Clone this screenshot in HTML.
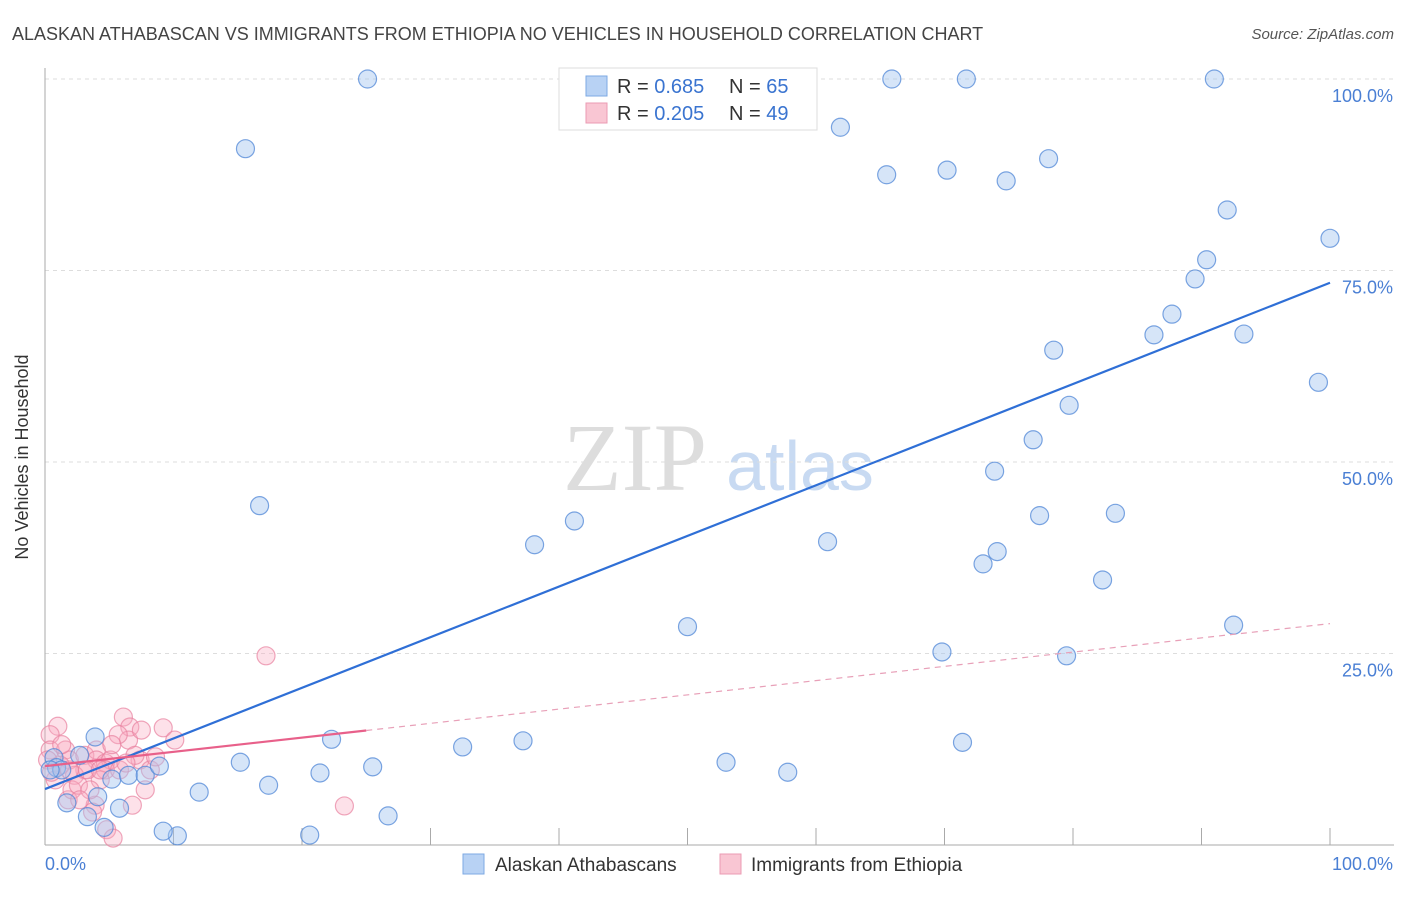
<!DOCTYPE html>
<html><head><meta charset="utf-8"><style>
body{margin:0;background:#fff;font-family:"Liberation Sans",sans-serif;}
</style></head><body>
<svg id="chart" width="1406" height="892" xmlns="http://www.w3.org/2000/svg">
<text x="12" y="40" font-size="18" fill="#444">ALASKAN ATHABASCAN VS IMMIGRANTS FROM ETHIOPIA NO VEHICLES IN HOUSEHOLD CORRELATION CHART</text>
<text x="1394" y="39" font-size="15" fill="#555" font-style="italic" text-anchor="end">Source: ZipAtlas.com</text>
<text x="28" y="457" font-size="18" fill="#333" text-anchor="middle" transform="rotate(-90 28 457)">No Vehicles in Household</text>
<g><text x="635" y="490" font-size="96" fill="#ddd" font-family="Liberation Serif,serif" text-anchor="middle">ZIP</text><text x="800" y="490" font-size="70" fill="#c8daf2" text-anchor="middle">atlas</text></g>
<g id="grid"></g><g id="axes"></g><g id="lines"></g><g id="pts"></g>
<g>
<rect x="559" y="68" width="258" height="62" fill="#fff" stroke="#ddd"/>
<rect x="586" y="76" width="21" height="20" fill="#b8d2f4" stroke="#7ea9e3"/>
<text x="617" y="93" font-size="20" fill="#333">R = <tspan fill="#3a74d0">0.685</tspan><tspan x="729">N = </tspan><tspan fill="#3a74d0">65</tspan></text>
<rect x="586" y="103" width="21" height="20" fill="#f9c6d3" stroke="#eb9bb3"/>
<text x="617" y="120" font-size="20" fill="#333">R = <tspan fill="#3a74d0">0.205</tspan><tspan x="729">N = </tspan><tspan fill="#3a74d0">49</tspan></text>
</g>
<g>
<rect x="463" y="854" width="21" height="20" fill="#b8d2f4" stroke="#7ea9e3"/>
<text x="495" y="871" font-size="19" fill="#333">Alaskan Athabascans</text>
<rect x="720" y="854" width="21" height="20" fill="#f9c6d3" stroke="#eb9bb3"/>
<text x="751" y="871" font-size="19" fill="#333">Immigrants from Ethiopia</text>
</g>
</svg>
<script>
const blueX=[25.1,15.6,61.9,65.9,71.7,91.0,65.5,70.2,74.8,78.1,92.0,100,90.4,89.5,87.7,86.3,93.3,78.5,99.1,79.7,76.9,73.9,16.7,41.2,38.1,77.4,83.3,60.9,74.1,73.0,82.3,50.0,92.5,69.8,79.5,22.3,32.5,37.2,71.4,15.2,25.5,53.0,57.8,21.4,17.4,12.0,26.7,20.6,10.3,9.2,0.7,3.9,2.7,5.2,6.5,7.8,8.9,1.7,3.3,5.8,4.6,4.1,0.9,1.3,0.4];
const blueY=[100,90.9,93.7,100,100,100,87.5,88.1,86.7,89.6,82.9,79.2,76.4,73.9,69.3,66.6,66.7,64.6,60.4,57.4,52.9,48.8,44.3,42.3,39.2,43.0,43.3,39.6,38.3,36.7,34.6,28.5,28.7,25.2,24.7,13.8,12.8,13.6,13.4,10.8,10.2,10.8,9.5,9.4,7.8,6.9,3.8,1.3,1.2,1.8,11.4,14.1,11.7,8.6,9.1,9.1,10.3,5.5,3.7,4.8,2.3,6.3,10.1,9.8,9.8];
const pinkX=[1.0,0.4,0.4,1.6,1.9,3.1,4.0,6.1,6.6,6.5,7.5,9.2,10.1,5.7,4.0,4.7,5.1,3.1,2.3,4.7,5.8,7.4,8.2,7.8,6.8,3.9,3.7,4.8,5.3,1.8,2.1,2.6,0.8,1.2,0.2,0.5,7.0,4.3,3.5,2.7,17.2,23.3,1.3,5.2,8.6,1.9,3.3,6.3,4.3];
const pinkY=[15.5,14.4,12.4,12.4,11.1,11.7,12.4,16.7,15.4,13.7,15.0,15.3,13.7,14.4,11.1,10.7,11.1,9.8,9.1,9.8,9.8,11.1,9.8,7.2,5.2,5.2,4.3,2.0,0.9,5.9,7.2,7.8,8.5,10.4,11.1,9.5,11.7,8.5,7.2,5.9,24.7,5.1,13.1,13.1,11.5,9.8,9.8,10.7,9.8];
const yTicks=[25,50,75,100];
const yTickLabels=["25.0%","50.0%","75.0%","100.0%"];
const xTicks=[0,10,20,30,40,50,60,70,80,90,100];
const blueFit=[7.3,0.661];
const pinkFit=[10.3,0.186];
const pinkSolidEnd=25;
const NS="http://www.w3.org/2000/svg";
const sx=v=>45+v*12.85, sy=v=>845-v*7.66;
function mk(tag,attrs,parent){const e=document.createElementNS(NS,tag);for(const k in attrs)e.setAttribute(k,attrs[k]);document.getElementById(parent).appendChild(e);return e;}
yTicks.forEach((t,i)=>{
 const l=mk('line',{x1:45,x2:1394,y1:sy(t),y2:sy(t),stroke:'#ddd','stroke-dasharray':'4,4'},'grid');
 
 
 const tx=mk('text',{x:1393,y:sy(t)+23,'font-size':18,fill:'#4a7fd4','text-anchor':'end'},'grid');
 tx.textContent=yTickLabels[i];
 
 
});
mk('line',{x1:45,x2:45,y1:68,y2:845,stroke:'#aaa'},'axes');
mk('line',{x1:45,x2:1394,y1:845,y2:845,stroke:'#aaa'},'axes');
xTicks.forEach(t=>{const l=mk('line',{x1:sx(t),x2:sx(t),y1:828,y2:845,stroke:'#aaa'},'axes');
 
 });
const x0=mk('text',{x:45,y:870,'font-size':18,fill:'#4a7fd4'},'axes');x0.textContent='0.0%';


const x1=mk('text',{x:1393,y:870,'font-size':18,fill:'#4a7fd4','text-anchor':'end'},'axes');x1.textContent='100.0%';


pinkX.forEach((x,i)=>{const c=mk('circle',{cx:sx(x),cy:sy(pinkY[i]),r:9,fill:'rgba(248,170,192,0.35)',stroke:'rgba(232,130,160,0.7)','stroke-width':1.2},'pts');
 
 });
blueX.forEach((x,i)=>{const c=mk('circle',{cx:sx(x),cy:sy(blueY[i]),r:9,fill:'rgba(165,198,240,0.45)',stroke:'rgba(80,135,215,0.75)','stroke-width':1.2},'pts');
 
 });
const bl=mk('line',{x1:sx(0),y1:sy(blueFit[0]),x2:sx(100),y2:sy(blueFit[0]+blueFit[1]*100),stroke:'#2f6fd6','stroke-width':2.2},'pts');


const ps=mk('line',{x1:sx(0),y1:sy(pinkFit[0]),x2:sx(pinkSolidEnd),y2:sy(pinkFit[0]+pinkFit[1]*pinkSolidEnd),stroke:'#e8608a','stroke-width':2.2},'pts');


const pd=mk('line',{x1:sx(pinkSolidEnd),y1:sy(pinkFit[0]+pinkFit[1]*pinkSolidEnd),x2:sx(100),y2:sy(pinkFit[0]+pinkFit[1]*100),stroke:'#e8a0b8','stroke-width':1.2,'stroke-dasharray':'6,5'},'pts');


</script>
</body></html>
